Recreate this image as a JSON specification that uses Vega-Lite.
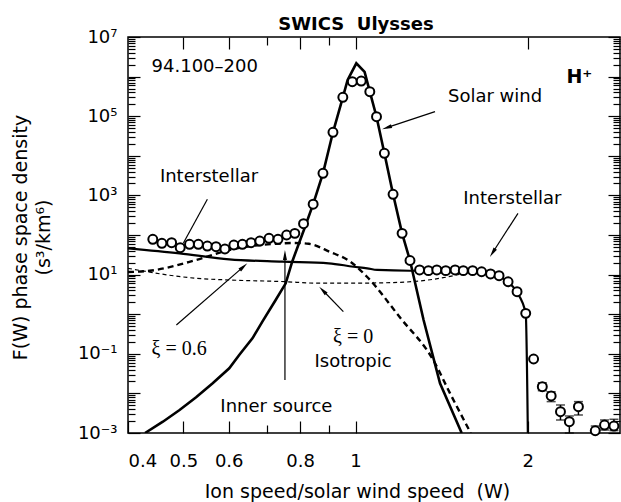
{
  "$schema": "https://vega.github.io/schema/vega-lite/v6.json",
  "width": 492,
  "height": 396,
  "autosize": {"type": "none"},
  "padding": {"left": 128, "top": 37, "right": 1, "bottom": 69},
  "background": "white",
  "title": {"text": "SWICS\u00a0 Ulysses", "font": "DejaVu Sans", "fontSize": 18, "fontWeight": "bold", "color": "black", "anchor": "middle", "frame": "group", "dx": -18, "dy": 30, "baseline": "alphabetic", "offset": 10},
  "config": {
    "view": {"stroke": "black", "strokeWidth": 1.5},
    "axis": {"grid": false, "domain": false, "tickColor": "black", "labelColor": "black", "titleColor": "black", "labelFont": "DejaVu Sans", "titleFont": "DejaVu Sans", "labelFontSize": 18, "titleFontSize": 19, "titleFontWeight": "normal", "tickWidth": 1.2}
  },
  "resolve": {"axis": {"x": "independent", "y": "independent"}},
  "layer": [
    {
      "data": {"values": [
        {"W": 0.4284, "F": 0.001}, {"W": 0.4603, "F": 0.00193}, {"W": 0.4923, "F": 0.00381}, {"W": 0.5262, "F": 0.00798},
        {"W": 0.5625, "F": 0.018}, {"W": 0.6013, "F": 0.043}, {"W": 0.6259, "F": 0.0933}, {"W": 0.6602, "F": 0.246},
        {"W": 0.6871, "F": 0.647}, {"W": 0.7249, "F": 2.29}, {"W": 0.7548, "F": 6.03}, {"W": 0.7748, "F": 21.2},
        {"W": 0.8121, "F": 134}, {"W": 0.843, "F": 600}, {"W": 0.877, "F": 3614}, {"W": 0.913, "F": 39200},
        {"W": 0.95, "F": 300000}, {"W": 0.9685, "F": 820000}, {"W": 1.003, "F": 2170000}, {"W": 1.037, "F": 1310000},
        {"W": 1.059, "F": 416000}, {"W": 1.088, "F": 97000}, {"W": 1.123, "F": 11560}, {"W": 1.163, "F": 1067},
        {"W": 1.206, "F": 110}, {"W": 1.245, "F": 22.7}, {"W": 1.315, "F": 0.714}, {"W": 1.405, "F": 0.018}, {"W": 1.533, "F": 0.001}
      ]},
      "mark": {"type": "line", "color": "black", "strokeWidth": 2.6, "clip": true},
      "encoding": {
        "x": {"field": "W", "type": "quantitative", "scale": {"type": "log", "domain": [0.4, 2.9], "nice": false},
          "axis": {"orient": "bottom", "values": [0.4, 0.5, 0.6, 0.8, 1, 2], "format": "~g", "tickSize": -12, "labelPadding": 31,
            "title": "Ion speed/solar wind speed\u00a0 (W)", "titleX": 229, "titleY": 64, "titleAlign": "center", "titleBaseline": "alphabetic"}},
        "y": {"field": "F", "type": "quantitative", "scale": {"type": "log", "domain": [0.001, 10000000], "nice": false},
          "axis": {"orient": "left", "values": [0.001, 0.01, 0.1, 1, 10, 100, 1000, 10000, 100000, 1000000, 10000000], "tickSize": -12, "labelPadding": 23,
            "labelExpr": "datum.value == 10000000 ? '10⁷' : datum.value == 100000 ? '10⁵' : datum.value == 1000 ? '10³' : datum.value == 10 ? '10¹' : datum.value == 0.1 ? '10⁻¹' : datum.value == 0.001 ? '10⁻³' : ''",
            "title": ["F(W) phase space density", "(s³/km⁶)"], "titleX": -108, "titleY": 200, "titleAngle": 270, "titleAlign": "center", "titleBaseline": "middle", "titleLineHeight": 23}}
      }
    },
    {
      "data": {"values": [
        {"W": 0.4, "F": 46.2}, {"W": 0.4923, "F": 34.5}, {"W": 0.6013, "F": 24.3}, {"W": 0.7442, "F": 21.2},
        {"W": 0.8976, "F": 19.3}, {"W": 0.992, "F": 15.8}, {"W": 1.048, "F": 14.4}, {"W": 1.091, "F": 13.1},
        {"W": 1.245, "F": 12.5}, {"W": 1.493, "F": 12.7}, {"W": 1.722, "F": 11}, {"W": 1.787, "F": 8.85},
        {"W": 1.846, "F": 6.6}, {"W": 1.912, "F": 3.7}, {"W": 1.984, "F": 1.05}, {"W": 2.001, "F": 0.001}
      ]},
      "mark": {"type": "line", "color": "black", "strokeWidth": 2.2, "interpolate": "monotone", "clip": true},
      "encoding": {
        "x": {"field": "W", "type": "quantitative", "scale": {"type": "log", "domain": [0.4, 2.9], "nice": false},
          "axis": {"orient": "bottom", "values": [0.7, 0.9], "tickSize": -8, "labels": false, "title": null}},
        "y": {"field": "F", "type": "quantitative", "scale": {"type": "log", "domain": [0.001, 10000000], "nice": false},
          "axis": {"orient": "left", "values": [0.002,0.003,0.004,0.005,0.006,0.007,0.008,0.009,0.02,0.03,0.04,0.05,0.06,0.07,0.08,0.09,0.2,0.3,0.4,0.5,0.6,0.7,0.8,0.9,2,3,4,5,6,7,8,9,20,30,40,50,60,70,80,90,200,300,400,500,600,700,800,900,2000,3000,4000,5000,6000,7000,8000,9000,20000,30000,40000,50000,60000,70000,80000,90000,200000,300000,400000,500000,600000,700000,800000,900000,2000000,3000000,4000000,5000000,6000000,7000000,8000000,9000000], "tickSize": -7, "labels": false, "title": null}}
      }
    },
    {
      "data": {"values": [
        {"W": 0.4, "F": 11.6}, {"W": 0.4365, "F": 12.5}, {"W": 0.5262, "F": 23.4}, {"W": 0.6013, "F": 41.8},
        {"W": 0.7249, "F": 60}, {"W": 0.78, "F": 63}, {"W": 0.8286, "F": 60}, {"W": 0.9, "F": 38},
        {"W": 0.98, "F": 21}, {"W": 1.048, "F": 8.7}, {"W": 1.198, "F": 0.8}, {"W": 1.367, "F": 0.0697},
        {"W": 1.463, "F": 0.01}, {"W": 1.59, "F": 0.001}
      ]},
      "mark": {"type": "line", "color": "black", "strokeWidth": 2.4, "strokeDash": [6, 4], "interpolate": "monotone", "clip": true},
      "encoding": {
        "x": {"field": "W", "type": "quantitative", "scale": {"type": "log", "domain": [0.4, 2.9], "nice": false},
          "axis": {"orient": "top", "values": [0.5, 0.6, 0.8, 1, 2], "tickSize": -12, "labels": false, "title": null}},
        "y": {"field": "F", "type": "quantitative", "scale": {"type": "log", "domain": [0.001, 10000000], "nice": false},
          "axis": {"orient": "right", "values": [0.001, 0.01, 0.1, 1, 10, 100, 1000, 10000, 100000, 1000000, 10000000], "tickSize": -12, "labels": false, "title": null}}
      }
    },
    {
      "data": {"values": [
        {"W": 0.4, "F": 14.4}, {"W": 0.5262, "F": 8.07}, {"W": 0.6013, "F": 7.31}, {"W": 0.7548, "F": 6.62},
        {"W": 0.851, "F": 6.1}, {"W": 1.0, "F": 6.1}, {"W": 1.198, "F": 6.39}, {"W": 1.367, "F": 7.61},
        {"W": 1.502, "F": 9.77}, {"W": 1.585, "F": 12}, {"W": 1.62, "F": 12.3}
      ]},
      "mark": {"type": "line", "color": "black", "strokeWidth": 1.2, "strokeDash": [4, 3], "interpolate": "monotone", "clip": true},
      "encoding": {
        "x": {"field": "W", "type": "quantitative", "scale": {"type": "log", "domain": [0.4, 2.9], "nice": false},
          "axis": {"orient": "top", "values": [0.7, 0.9], "tickSize": -8, "labels": false, "title": null}},
        "y": {"field": "F", "type": "quantitative", "scale": {"type": "log", "domain": [0.001, 10000000], "nice": false},
          "axis": {"orient": "right", "values": [0.002,0.003,0.004,0.005,0.006,0.007,0.008,0.009,0.02,0.03,0.04,0.05,0.06,0.07,0.08,0.09,0.2,0.3,0.4,0.5,0.6,0.7,0.8,0.9,2,3,4,5,6,7,8,9,20,30,40,50,60,70,80,90,200,300,400,500,600,700,800,900,2000,3000,4000,5000,6000,7000,8000,9000,20000,30000,40000,50000,60000,70000,80000,90000,200000,300000,400000,500000,600000,700000,800000,900000,2000000,3000000,4000000,5000000,6000000,7000000,8000000,9000000], "tickSize": -7, "labels": false, "title": null}}
      }
    },
    {
      "data": {"values": [
        {"W": 1.387, "lo": 11.2, "hi": 15.0}, {"W": 1.438, "lo": 11.0, "hi": 14.8},
        {"W": 2.121, "lo": 0.0117, "hi": 0.0186}, {"W": 2.198, "lo": 0.0062, "hi": 0.011},
        {"W": 2.282, "lo": 0.00213, "hi": 0.0051}, {"W": 2.365, "lo": 0.001, "hi": 0.00269},
        {"W": 2.453, "lo": 0.00285, "hi": 0.0062}, {"W": 2.625, "lo": 0.001, "hi": 0.0015},
        {"W": 2.725, "lo": 0.00119, "hi": 0.00213}, {"W": 2.83, "lo": 0.00115, "hi": 0.00222}
      ]},
      "mark": {"type": "errorbar", "ticks": true, "size": 9, "thickness": 1.5, "color": "black"},
      "encoding": {
        "x": {"field": "W", "type": "quantitative", "scale": {"type": "log", "domain": [0.4, 2.9], "nice": false}, "axis": null},
        "y": {"field": "lo", "type": "quantitative", "scale": {"type": "log", "domain": [0.001, 10000000], "nice": false}, "axis": null},
        "y2": {"field": "hi"}
      }
    },
    {
      "data": {"values": [
        {"W": 0.442, "F": 77.8}, {"W": 0.4585, "F": 61.7}, {"W": 0.4768, "F": 64}, {"W": 0.4936, "F": 47.8},
        {"W": 0.5124, "F": 58.2}, {"W": 0.531, "F": 58.2}, {"W": 0.5506, "F": 52.7}, {"W": 0.5702, "F": 50.7},
        {"W": 0.5909, "F": 44.3}, {"W": 0.6126, "F": 55.9}, {"W": 0.634, "F": 58.2}, {"W": 0.6566, "F": 64},
        {"W": 0.68, "F": 70.5}, {"W": 0.7058, "F": 82.6}, {"W": 0.7317, "F": 77.8}, {"W": 0.7576, "F": 100},
        {"W": 0.783, "F": 110}, {"W": 0.811, "F": 193}, {"W": 0.843, "F": 600}, {"W": 0.877, "F": 3614},
        {"W": 0.913, "F": 39200}, {"W": 0.95, "F": 300000}, {"W": 0.987, "F": 743000}, {"W": 1.023, "F": 774000},
        {"W": 1.059, "F": 416000}, {"W": 1.088, "F": 97000}, {"W": 1.123, "F": 11560}, {"W": 1.163, "F": 1067},
        {"W": 1.206, "F": 110}, {"W": 1.245, "F": 22.7}, {"W": 1.294, "F": 13.1}, {"W": 1.341, "F": 12.6},
        {"W": 1.387, "F": 13.1}, {"W": 1.438, "F": 12.6}, {"W": 1.493, "F": 13.1}, {"W": 1.543, "F": 12.6},
        {"W": 1.602, "F": 12.6}, {"W": 1.661, "F": 11.8}, {"W": 1.722, "F": 10.4}, {"W": 1.782, "F": 9.4},
        {"W": 1.848, "F": 6.6}, {"W": 1.916, "F": 3.7}, {"W": 1.984, "F": 1.05}, {"W": 2.048, "F": 0.0739},
        {"W": 2.121, "F": 0.01476}, {"W": 2.198, "F": 0.0086}, {"W": 2.282, "F": 0.00345}, {"W": 2.365, "F": 0.00193},
        {"W": 2.453, "F": 0.00461}, {"W": 2.625, "F": 0.00114}, {"W": 2.725, "F": 0.00159}, {"W": 2.83, "F": 0.0015}
      ]},
      "mark": {"type": "point", "shape": "circle", "size": 80, "filled": true, "fill": "white", "stroke": "black", "strokeWidth": 2, "opacity": 1},
      "encoding": {
        "x": {"field": "W", "type": "quantitative", "scale": {"type": "log", "domain": [0.4, 2.9], "nice": false}, "axis": null},
        "y": {"field": "F", "type": "quantitative", "scale": {"type": "log", "domain": [0.001, 10000000], "nice": false}, "axis": null}
      }
    },
    {
      "data": {"values": [
        {"W1": 1.377, "F1": 130000, "W2": 1.134, "F2": 51300},
        {"W1": 1.923, "F1": 353, "W2": 1.736, "F2": 35.6},
        {"W1": 0.5506, "F1": 797, "W2": 0.5, "F2": 62.8},
        {"W1": 0.486, "F1": 0.533, "W2": 0.637, "F2": 15.9},
        {"W1": 0.952, "F1": 1.156, "W2": 0.876, "F2": 4.02},
        {"W1": 0.7525, "F1": 0.0218, "W2": 0.7525, "F2": 31.3}
      ]},
      "mark": {"type": "rule", "color": "black", "strokeWidth": 1.2},
      "encoding": {
        "x": {"field": "W1", "type": "quantitative", "scale": {"type": "log", "domain": [0.4, 2.9], "nice": false}, "axis": null},
        "y": {"field": "F1", "type": "quantitative", "scale": {"type": "log", "domain": [0.001, 10000000], "nice": false}, "axis": null},
        "x2": {"field": "W2"},
        "y2": {"field": "F2"}
      }
    },
    {
      "data": {"values": [{"W": 1.134, "F": 51300}]},
      "mark": {"type": "point", "shape": "M0,-1L0.4,1L-0.4,1Z", "size": 100, "filled": true, "color": "black", "opacity": 1, "angle": 251.7},
      "encoding": {
        "x": {"field": "W", "type": "quantitative", "axis": null},
        "y": {"field": "F", "type": "quantitative", "axis": null}
      }
    },
    {
      "data": {"values": [{"W": 1.736, "F": 35.6}]},
      "mark": {"type": "point", "shape": "M0,-1L0.4,1L-0.4,1Z", "size": 100, "filled": true, "color": "black", "opacity": 1, "angle": 212.9},
      "encoding": {
        "x": {"field": "W", "type": "quantitative", "axis": null},
        "y": {"field": "F", "type": "quantitative", "axis": null}
      }
    },
    {
      "data": {"values": [{"W": 0.637, "F": 15.9}]},
      "mark": {"type": "point", "shape": "M0,-1L0.4,1L-0.4,1Z", "size": 100, "filled": true, "color": "black", "opacity": 1, "angle": 49.1},
      "encoding": {
        "x": {"field": "W", "type": "quantitative", "axis": null},
        "y": {"field": "F", "type": "quantitative", "axis": null}
      }
    },
    {
      "data": {"values": [{"W": 0.876, "F": 4.02}]},
      "mark": {"type": "point", "shape": "M0,-1L0.4,1L-0.4,1Z", "size": 100, "filled": true, "color": "black", "opacity": 1, "angle": 315.7},
      "encoding": {
        "x": {"field": "W", "type": "quantitative", "axis": null},
        "y": {"field": "F", "type": "quantitative", "axis": null}
      }
    },
    {
      "data": {"values": [{"W": 0.7525, "F": 31.3}]},
      "mark": {"type": "point", "shape": "M0,-1L0.4,1L-0.4,1Z", "size": 100, "filled": true, "color": "black", "opacity": 1, "angle": 0},
      "encoding": {
        "x": {"field": "W", "type": "quantitative", "axis": null},
        "y": {"field": "F", "type": "quantitative", "axis": null}
      }
    },
    {
      "data": {"values": [
        {"W": 0.4398, "F": 1310000, "label": "94.100–200"},
        {"W": 1.451, "F": 232000, "label": "Solar wind"},
        {"W": 1.543, "F": 596, "label": "Interstellar"},
        {"W": 0.4548, "F": 2218, "label": "Interstellar"}
      ]},
      "mark": {"type": "text", "align": "left", "baseline": "alphabetic", "font": "DejaVu Sans", "fontSize": 18, "color": "black"},
      "encoding": {
        "x": {"field": "W", "type": "quantitative", "axis": null},
        "y": {"field": "F", "type": "quantitative", "axis": null},
        "text": {"field": "label"}
      }
    },
    {
      "data": {"values": [
        {"W": 0.99, "F": 0.0472, "label": "Isotropic"},
        {"W": 0.727, "F": 0.00345, "label": "Inner source"}
      ]},
      "mark": {"type": "text", "align": "center", "baseline": "alphabetic", "font": "DejaVu Sans", "fontSize": 18, "color": "black"},
      "encoding": {
        "x": {"field": "W", "type": "quantitative", "axis": null},
        "y": {"field": "F", "type": "quantitative", "axis": null},
        "text": {"field": "label"}
      }
    },
    {
      "data": {"values": [
        {"W": 0.4398, "F": 0.0933, "label": "ξ = 0.6"},
        {"W": 0.913, "F": 0.1906, "label": "ξ = 0"}
      ]},
      "mark": {"type": "text", "align": "left", "baseline": "alphabetic", "font": "Liberation Serif", "fontSize": 20, "color": "black"},
      "encoding": {
        "x": {"field": "W", "type": "quantitative", "axis": null},
        "y": {"field": "F", "type": "quantitative", "axis": null},
        "text": {"field": "label"}
      }
    },
    {
      "data": {"values": [{"W": 2.337, "F": 689000, "label": "H⁺"}]},
      "mark": {"type": "text", "align": "left", "baseline": "alphabetic", "font": "DejaVu Sans", "fontSize": 19, "fontWeight": "bold", "color": "black"},
      "encoding": {
        "x": {"field": "W", "type": "quantitative", "axis": null},
        "y": {"field": "F", "type": "quantitative", "axis": null},
        "text": {"field": "label"}
      }
    }
  ]
}
